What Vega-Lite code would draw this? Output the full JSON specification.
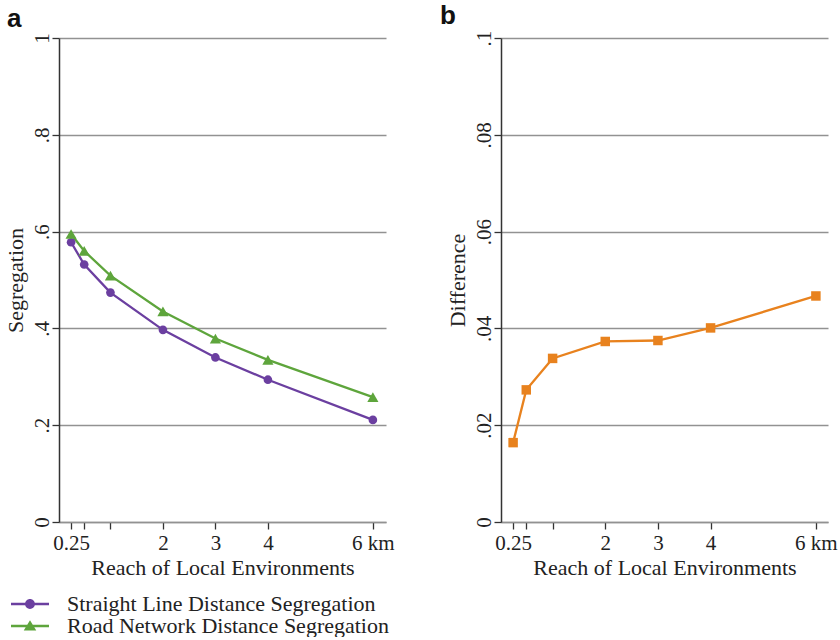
{
  "$schema": "https://vega.github.io/schema/vega-lite/v6.json",
  "background": "white",
  "padding": {"left": 4, "top": 3, "right": 0, "bottom": 0},
  "datasets": {
    "seg": [
      {"km": 0.25, "value": 0.578, "series": "Straight Line Distance Segregation"},
      {"km": 0.5, "value": 0.532, "series": "Straight Line Distance Segregation"},
      {"km": 1, "value": 0.474, "series": "Straight Line Distance Segregation"},
      {"km": 2, "value": 0.397, "series": "Straight Line Distance Segregation"},
      {"km": 3, "value": 0.340, "series": "Straight Line Distance Segregation"},
      {"km": 4, "value": 0.294, "series": "Straight Line Distance Segregation"},
      {"km": 6, "value": 0.211, "series": "Straight Line Distance Segregation"},
      {"km": 0.25, "value": 0.595, "series": "Road Network Distance Segregation"},
      {"km": 0.5, "value": 0.560, "series": "Road Network Distance Segregation"},
      {"km": 1, "value": 0.509, "series": "Road Network Distance Segregation"},
      {"km": 2, "value": 0.435, "series": "Road Network Distance Segregation"},
      {"km": 3, "value": 0.379, "series": "Road Network Distance Segregation"},
      {"km": 4, "value": 0.335, "series": "Road Network Distance Segregation"},
      {"km": 6, "value": 0.258, "series": "Road Network Distance Segregation"}
    ],
    "diff": [
      {"km": 0.25, "diff": 0.0164},
      {"km": 0.5, "diff": 0.0273},
      {"km": 1, "diff": 0.0338},
      {"km": 2, "diff": 0.0373},
      {"km": 3, "diff": 0.0375},
      {"km": 4, "diff": 0.0401},
      {"km": 6, "diff": 0.0467}
    ]
  },
  "spacing": 45,
  "hconcat": [
    {
      "width": 327,
      "height": 484,
      "title": {"text": "a", "anchor": "start", "frame": "bounds", "font": "Liberation Sans", "fontWeight": "bold", "fontSize": 26, "color": "#111", "offset": 2, "dy": 1, "dx": 3},
      "data": {"name": "seg"},
      "encoding": {
        "x": {
          "field": "km", "type": "quantitative",
          "scale": {"domain": [0.02, 6.25], "nice": false, "zero": false},
          "axis": {
            "values": [0.25, 0.5, 1, 2, 3, 4, 6],
            "labelExpr": "datum.value == 6 ? '6 km' : (datum.value == 0.5 || datum.value == 1) ? '' : format(datum.value, '~g')",
            "title": "Reach of Local Environments",
            "grid": false
          }
        },
        "y": {
          "field": "value", "type": "quantitative",
          "scale": {"domain": [0, 1], "nice": false},
          "axis": {
            "values": [0, 0.2, 0.4, 0.6, 0.8, 1],
            "labelExpr": "replace(format(datum.value, '~g'), '0.', '.')",
            "title": "Segregation",
            "grid": true
          }
        }
      },
      "layer": [
        {
          "transform": [{"filter": "datum.series == 'Straight Line Distance Segregation'"}],
          "mark": {"type": "line", "strokeWidth": 2.3, "color": "#6b3fa0"},
          "encoding": {}
        },
        {
          "transform": [{"filter": "datum.series == 'Road Network Distance Segregation'"}],
          "mark": {"type": "line", "strokeWidth": 2.3, "color": "#5ea53c"},
          "encoding": {}
        },
        {
          "transform": [{"filter": "datum.series == 'Straight Line Distance Segregation'"}],
          "mark": {"type": "point", "filled": true, "opacity": 1, "shape": "circle", "size": 75, "color": "#6b3fa0"},
          "encoding": {}
        },
        {
          "transform": [{"filter": "datum.series == 'Road Network Distance Segregation'"}],
          "mark": {"type": "point", "filled": true, "opacity": 1, "shape": "triangle-up", "size": 125, "color": "#5ea53c"},
          "encoding": {}
        },
        {
          "mark": {"type": "point", "filled": true, "opacity": 0},
          "encoding": {
            "color": {
              "field": "series", "type": "nominal",
              "scale": {"domain": ["Straight Line Distance Segregation", "Road Network Distance Segregation"], "range": ["#6b3fa0", "#5ea53c"]},
              "legend": {
                "orient": "none", "legendX": -40, "legendY": 555,
                "title": null, "direction": "vertical",
                "labelFont": "Liberation Serif", "labelFontSize": 22, "labelColor": "#222", "labelLimit": 0,
                "symbolSize": 361, "symbolOpacity": 1, "symbolStrokeWidth": 0, "labelOffset": 26, "rowPadding": -4
              }
            },
            "shape": {
              "field": "series", "type": "nominal",
              "scale": {
                "domain": ["Straight Line Distance Segregation", "Road Network Distance Segregation"],
                "range": [
                  "M-2,-0.13H2V0.13H-2Z M-0.52,0A0.52,0.52 0 1,1 0.52,0A0.52,0.52 0 1,1 -0.52,0Z",
                  "M-2,-0.13H2V0.13H-2Z M-0.66,0.48L0,-0.6L0.66,0.48Z"
                ]
              },
              "legend": {
                "orient": "none", "legendX": -40, "legendY": 555,
                "title": null, "direction": "vertical",
                "labelFont": "Liberation Serif", "labelFontSize": 22, "labelColor": "#222", "labelLimit": 0,
                "symbolSize": 361, "symbolOpacity": 1, "symbolStrokeWidth": 0, "labelOffset": 26, "rowPadding": -4
              }
            }
          }
        }
      ]
    },
    {
      "width": 327,
      "height": 484,
      "title": {"text": "b", "anchor": "start", "frame": "bounds", "font": "Liberation Sans", "fontWeight": "bold", "fontSize": 26, "color": "#111", "offset": 2, "dy": 1, "dx": -6},
      "data": {"name": "diff"},
      "encoding": {
        "x": {
          "field": "km", "type": "quantitative",
          "scale": {"domain": [0.02, 6.23], "nice": false, "zero": false},
          "axis": {
            "values": [0.25, 0.5, 1, 2, 3, 4, 6],
            "labelExpr": "datum.value == 6 ? '6 km' : (datum.value == 0.5 || datum.value == 1) ? '' : format(datum.value, '~g')",
            "title": "Reach of Local Environments",
            "grid": false
          }
        },
        "y": {
          "field": "diff", "type": "quantitative",
          "scale": {"domain": [0, 0.1], "nice": false},
          "axis": {
            "values": [0, 0.02, 0.04, 0.06, 0.08, 0.1],
            "labelExpr": "replace(format(datum.value, '~g'), '0.', '.')",
            "title": "Difference",
            "grid": true
          }
        }
      },
      "layer": [
        {"mark": {"type": "line", "strokeWidth": 2.3, "color": "#e8821e"}, "encoding": {}},
        {"mark": {"type": "point", "filled": true, "opacity": 1, "shape": "square", "size": 90, "color": "#e8821e"}, "encoding": {}}
      ]
    }
  ],
  "config": {
    "view": {"stroke": null},
    "axis": {
      "labelFont": "Liberation Serif",
      "labelFontSize": 21,
      "labelColor": "#222",
      "titleFont": "Liberation Serif",
      "titleFontSize": 22,
      "titleFontWeight": "normal",
      "titleColor": "#222",
      "tickColor": "#333",
      "tickSize": 7,
      "tickWidth": 1.3,
      "gridColor": "#929292",
      "gridWidth": 1.4,
      "gridOpacity": 1,
      "labelFlush": false,
      "labelOverlap": false,
      "labelPadding": 3
    },
    "axisY": {
      "labelAngle": -90,
      "labelAlign": "center",
      "labelBaseline": "bottom",
      "labelPadding": 0,
      "domainColor": "#333",
      "domainWidth": 1.5,
      "titlePadding": 4
    },
    "axisX": {
      "domainColor": "#929292",
      "domainWidth": 1.4,
      "titlePadding": 4
    }
  }
}
